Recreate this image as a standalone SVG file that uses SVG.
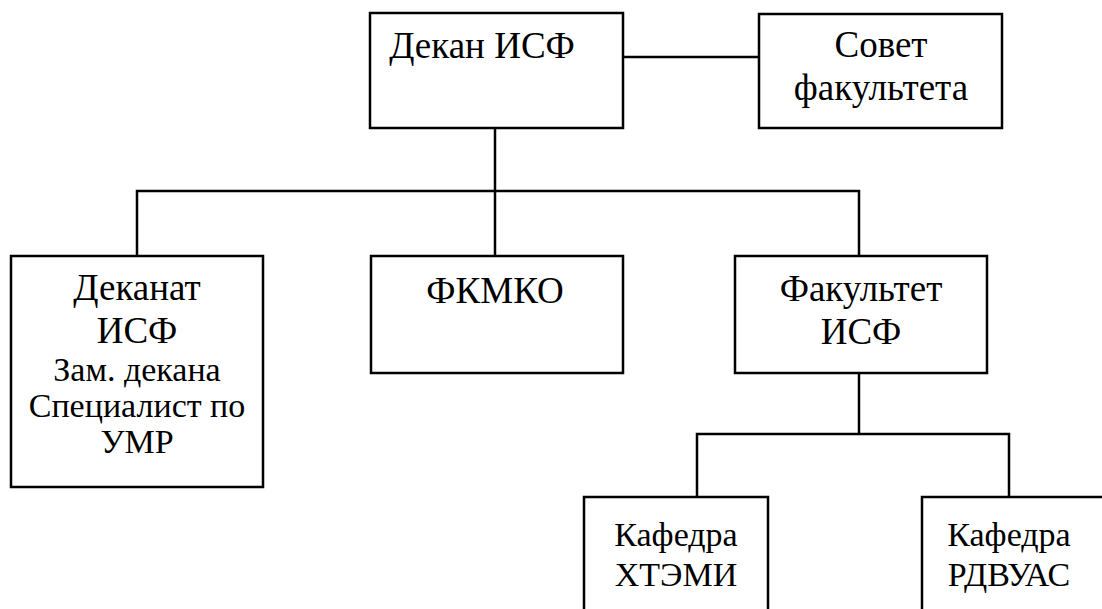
<svg xmlns="http://www.w3.org/2000/svg" width="1102" height="609" viewBox="0 0 1102 609">
<style>
.box{fill:#fff;stroke:#000;stroke-width:2.5}
.ln{fill:none;stroke:#000;stroke-width:2.5}
.t{font-family:"Liberation Serif","Times New Roman",serif;font-size:37px;fill:#000;text-anchor:middle}
.s{font-size:34px}
</style>
<rect width="1102" height="609" fill="#fff"/>
<g id="connectors">
<line class="ln" x1="623" y1="57" x2="759" y2="57"/>
<line class="ln" x1="495" y1="128" x2="495" y2="256"/>
<polyline class="ln" points="137,256 137,191 859,191 859,256"/>
<line class="ln" x1="859" y1="373" x2="859" y2="434"/>
<polyline class="ln" points="697,497 697,434 1009,434 1009,497"/>
</g>
<g id="dekan">
<rect class="box" x="370" y="13" width="253" height="115"/>
<text class="t" x="482" y="58">Декан ИСФ</text>
</g>
<g id="sovet">
<rect class="box" x="759" y="14" width="243" height="114"/>
<text class="t" x="881" y="57">Совет</text>
<text class="t" x="881" y="100">факультета</text>
</g>
<g id="dekanat">
<rect class="box" x="11" y="256" width="252" height="231"/>
<text class="t" x="137" y="300">Деканат</text>
<text class="t" x="137" y="343">ИСФ</text>
<text class="t s" x="137" y="381">Зам. декана</text>
<text class="t s" x="137" y="417">Специалист по</text>
<text class="t s" x="137" y="453">УМР</text>
</g>
<g id="fkmko">
<rect class="box" x="371" y="256" width="252" height="117"/>
<text class="t" x="495" y="303">ФКМКО</text>
</g>
<g id="fakultet">
<rect class="box" x="735" y="256" width="252" height="117"/>
<text class="t" x="861" y="301">Факультет</text>
<text class="t" x="861" y="344">ИСФ</text>
</g>
<g id="kaf1">
<rect class="box" x="584" y="497" width="184" height="130"/>
<text class="t s" x="676" y="546">Кафедра</text>
<text class="t s" x="676" y="586">ХТЭМИ</text>
</g>
<g id="kaf2">
<rect class="box" x="922" y="497" width="200" height="130"/>
<text class="t s" x="1009" y="546">Кафедра</text>
<text class="t s" x="1009" y="586">РДВУАС</text>
</g>
</svg>
